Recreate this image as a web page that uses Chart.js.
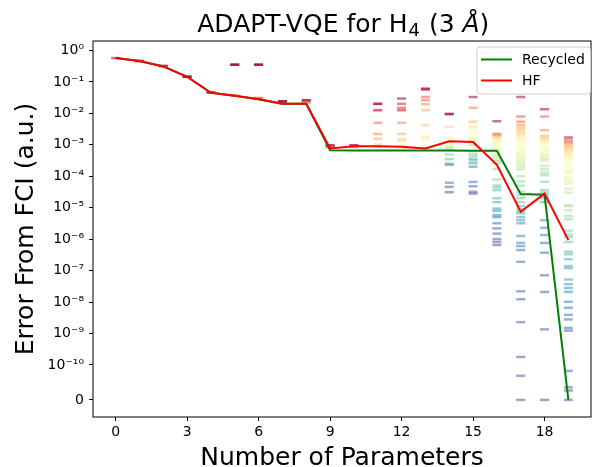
<!DOCTYPE html>
<html><head><meta charset="utf-8">
<script src="https://cdn.jsdelivr.net/npm/chart.js@4"></script>
<style>html,body{margin:0;padding:0;background:#fff}canvas{display:block}</style>
</head><body>
<canvas id="c" width="598" height="467"></canvas>
<script>
// ---------- data ----------
const numParams = [0,1,2,3,4,5,6,7,8,9,10,11,12,13,14,15,16,17,18,19];
const errRecycled = [5.7e-1,4.6e-1,3.1e-1,1.45e-1,4.5e-2,3.6e-2,2.8e-2,2.0e-2,2.0e-2,6.7e-4,6.6e-4,6.6e-4,6.6e-4,6.6e-4,6.6e-4,6.5e-4,6.5e-4,2.7e-5,2.6e-5,0];
const errHF = [5.7e-1,4.6e-1,3.1e-1,1.45e-1,4.5e-2,3.6e-2,2.8e-2,2.0e-2,2.0e-2,7.6e-4,8.9e-4,8.9e-4,8.7e-4,7.6e-4,1.3e-3,1.23e-3,2.3e-4,7.4e-6,2.8e-5,9.3e-7];

const cand00 = [5.7e-1];
const cand01 = [4.6e-1,4.6e-1];
const cand02 = [3.2e-1,3.2e-1];
const cand03 = [1.45e-1,1.45e-1,1.45e-1];
const cand04 = [4.6e-2,4.6e-2];
const cand05 = [3.5e-1,3.5e-1,3.5e-1,3.7e-2];
const cand06 = [3.5e-1,3.5e-1,3.5e-1,3.1e-2,3.0e-2];
const cand07 = [2.4e-2,2.4e-2,2.4e-2,2.1e-2];
const cand08 = [2.6e-2,2.6e-2,2.5e-2,2.2e-2];
const cand09 = [9.5e-4,9.5e-4,9.3e-4,8.3e-4];
const cand10 = [9.5e-4,9.5e-4,9.3e-4,8.5e-4];
const cand11 = [2.0e-2,2.0e-2,1.26e-2,1.26e-2,5.0e-3,2.2e-3,1.55e-3,1.0e-3,8.5e-4];
const cand12 = [2.95e-2,2.0e-2,1.5e-2,1.26e-2,1.26e-2,5.0e-3,2.2e-3,1.5e-3,1.3e-3,1.0e-3,7.6e-4];
const cand13 = [6.0e-2,6.0e-2,5.6e-2,3.3e-2,2.6e-2,1.95e-2,1.26e-2,4.2e-3,1.8e-3,1.45e-3,1.0e-3,8.0e-4];
const cand14 = [9.5e-3,9.5e-3,3.7e-3,1.7e-3,1.4e-3,1.1e-3,9.1e-4,7.6e-4,4.9e-4,3.5e-4,2.5e-4,2.3e-4,6.2e-5,4.6e-5,3.1e-5];
const cand15 = [3.3e-2,1.5e-2,5.4e-3,3.7e-3,2.7e-3,2.4e-3,1.9e-3,1.6e-3,1.4e-3,1.2e-3,1.0e-3,5.2e-4,4.4e-4,3.6e-4,3.2e-4,2.6e-4,2.0e-4,6.6e-5,4.8e-5,3.2e-5,2.8e-5];
const cand16 = [5.6e-3,2.2e-3,2.1e-3,1.95e-3,1.8e-3,1.6e-3,1.4e-3,1.2e-3,1.1e-3,1.0e-3,8.9e-4,7.9e-4,6.8e-4,5.6e-4,4.7e-4,4.1e-4,3.4e-4,3.0e-4,2.6e-4,1.7e-4,7.9e-5,5.1e-5,4.4e-5,3.6e-5,2.0e-5,1.5e-5,9.3e-6,7.9e-6,5.8e-6,5.0e-6,3.2e-6,2.2e-6,1.5e-6,1.0e-6,8.1e-7,6.5e-7];
const cand17 = [3.3e-2,7.9e-3,5.4e-3,4.3e-3,3.5e-3,3.0e-3,2.5e-3,2.2e-3,2.0e-3,1.66e-3,1.4e-3,1.2e-3,1.05e-3,8.9e-4,7.6e-4,6.8e-4,5.6e-4,4.8e-4,4.0e-4,3.4e-4,2.8e-4,2.4e-4,2.0e-4,1.66e-4,1.0e-4,6.8e-5,5.0e-5,3.2e-5,2.5e-5,2.0e-5,1.5e-5,1.12e-5,8.9e-6,7.6e-6,6.6e-6,5.0e-6,4.0e-6,3.2e-6,1.26e-6,7.6e-7,6.0e-7,4.5e-7,1.9e-7,2.2e-8,1.23e-8,2.3e-9,1.8e-10,6.9e-11,0];
const cand18 = [1.35e-2,7.9e-3,2.9e-3,1.9e-3,1.66e-3,1.5e-3,1.3e-3,1.15e-3,1.0e-3,8.5e-4,7.2e-4,6.3e-4,5.2e-4,4.5e-4,3.7e-4,3.2e-4,2.1e-4,1.66e-4,1.3e-4,1.07e-4,6.6e-5,3.6e-5,3.0e-5,2.5e-5,2.0e-5,1.5e-5,4.0e-6,2.3e-6,1.35e-6,7.6e-7,3.7e-7,7.1e-8,2.1e-8,1.35e-9,0];
const cand19 = [1.7e-3,1.4e-3,1.2e-3,1.1e-3,9.5e-4,8.3e-4,7.2e-4,6.3e-4,5.4e-4,4.7e-4,4.0e-4,3.5e-4,3.0e-4,2.6e-4,2.2e-4,1.8e-4,1.5e-4,1.26e-4,9.3e-5,7.4e-5,5.9e-5,4.0e-5,3.0e-5,1.2e-5,1.12e-5,8.3e-6,5.4e-6,4.3e-6,1.86e-6,1.4e-6,1.17e-6,8.1e-7,4.0e-7,3.3e-7,2.3e-7,1.4e-7,1.2e-7,5.2e-8,3.7e-8,2.8e-8,2.1e-8,1.02e-8,6.6e-9,3.9e-9,2.8e-9,1.5e-9,1.23e-9,8.3e-11,3.6e-11,2.7e-11,0];
const candidates = [cand00,cand01,cand02,cand03,cand04,cand05,cand06,cand07,cand08,cand09,cand10,cand11,cand12,cand13,cand14,cand15,cand16,cand17,cand18,cand19];

const xTicks = [0,3,6,9,12,15,18];
const yTickValues = [1,1e-1,1e-2,1e-3,1e-4,1e-5,1e-6,1e-7,1e-8,1e-9,1e-10,0];
const yTickLabels = ['10\u2070','10\u207B\u00B9','10\u207B\u00B2','10\u207B\u00B3','10\u207B\u2074','10\u207B\u2075','10\u207B\u2076','10\u207B\u2077','10\u207B\u2078','10\u207B\u2079','10\u207B\u00B9\u2070','0'];

// ---------- symlog transform (linthresh 1e-10, linscale 1) ----------
const THRESH = 1e-10, LIN = 1/(1-0.1);
function symlog(v){ return v >= THRESH ? Math.log10(v/THRESH) + LIN : (v/THRESH)*LIN; }

// ---------- Spectral colormap ----------
const SPEC = ['#9e0142','#d53e4f','#f46d43','#fdae61','#fee08b','#ffffbf','#e6f598','#abdda4','#66c2a5','#3288bd','#5e4fa2'];
function hex(h){return [parseInt(h.slice(1,3),16),parseInt(h.slice(3,5),16),parseInt(h.slice(5,7),16)];}
function spectral(t, a){
  t = Math.max(0, Math.min(1, t));
  const p = t*(SPEC.length-1), i = Math.min(Math.floor(p), SPEC.length-2), f = p-i;
  const c0 = hex(SPEC[i]), c1 = hex(SPEC[i+1]);
  const c = c0.map((v,k)=>Math.round(v+(c1[k]-v)*f));
  return `rgba(${c[0]},${c[1]},${c[2]},${a})`;
}

const dashPts = [], dashCols = [];
candidates.forEach((col, xi) => {
  const sorted = col.slice().sort((a,b)=>b-a);
  const n = sorted.length;
  sorted.forEach((v) => {
    const rr = sorted.indexOf(v);           // ties share a rank
    const t = n >= 14 ? Math.sqrt(rr/(n-1)) : rr/20;
    dashPts.push({x: numParams[xi], y: symlog(v)});
    dashCols.push(spectral(t, 0.55));
  });
});

const allVals = [].concat(errRecycled, errHF, ...candidates).map(symlog);
const yLo = Math.min(...allVals), yHi = Math.max(...allVals);
const yPad = (yHi-yLo)*0.05;
const xPad = (numParams[numParams.length-1]-numParams[0])*0.05;

const FONT = "'DejaVu Sans', sans-serif";

const overlay = {
  id: 'overlay',
  afterDraw(chart){
    const ctx = chart.ctx, a = chart.chartArea;
    ctx.save();
    ctx.strokeStyle = '#000'; ctx.lineWidth = 1;
    ctx.strokeRect(a.left, a.top, a.right-a.left, a.bottom-a.top);
    // title
    const segs = [
      {t:'ADAPT-VQE for H', f:`25px ${FONT}`, dy:0},
      {t:'4', f:`18px ${FONT}`, dy:4},
      {t:' (3 ', f:`25px ${FONT}`, dy:0},
      {t:'\u00C5', f:`italic 25px ${FONT}`, dy:0},
      {t:')', f:`25px ${FONT}`, dy:0}
    ];
    let w = 0;
    segs.forEach(s=>{ctx.font=s.f; s.w=ctx.measureText(s.t).width + (s.t==='4'?2:0); w+=s.w;});
    let x = 343.3 - w/2;
    ctx.fillStyle = '#000'; ctx.textAlign='left'; ctx.textBaseline='alphabetic';
    segs.forEach(s=>{ctx.font=s.f; ctx.fillText(s.t, x + (s.t==='4'?1:0), 31.7+s.dy); x+=s.w;});
    // x label
    ctx.font = `25px ${FONT}`; ctx.textAlign='center';
    ctx.fillText('Number of Parameters', (a.left+a.right)/2, 465);
    // y label
    ctx.save();
    ctx.translate(32.5, (a.top+a.bottom)/2);
    ctx.rotate(-Math.PI/2);
    ctx.fillText('Error From FCI (a.u.)', 0, 0);
    ctx.restore();
    // legend
    const lx=477, ly=47, lw=113.5, lh=47, r=3;
    ctx.beginPath();
    ctx.moveTo(lx+r,ly); ctx.lineTo(lx+lw-r,ly); ctx.quadraticCurveTo(lx+lw,ly,lx+lw,ly+r);
    ctx.lineTo(lx+lw,ly+lh-r); ctx.quadraticCurveTo(lx+lw,ly+lh,lx+lw-r,ly+lh);
    ctx.lineTo(lx+r,ly+lh); ctx.quadraticCurveTo(lx,ly+lh,lx,ly+lh-r);
    ctx.lineTo(lx,ly+r); ctx.quadraticCurveTo(lx,ly,lx+r,ly); ctx.closePath();
    ctx.fillStyle='rgba(255,255,255,0.8)'; ctx.fill();
    ctx.strokeStyle='#cccccc'; ctx.lineWidth=1; ctx.stroke();
    const items = [['Recycled','#008000',59.5],['HF','#ff0000',80.5]];
    items.forEach(([lab,col,yy])=>{
      ctx.strokeStyle=col; ctx.lineWidth=2;
      ctx.beginPath(); ctx.moveTo(481,yy); ctx.lineTo(512,yy); ctx.stroke();
      ctx.fillStyle='#000'; ctx.font=`14px ${FONT}`; ctx.textAlign='left'; ctx.textBaseline='middle';
      ctx.fillText(lab, 522, yy+0.5);
    });
    ctx.restore();
  }
};

new Chart(document.getElementById('c'), {
  type: 'scatter',
  data: {
    datasets: [
      {
        label: 'HF', type: 'line', order: 1,
        data: numParams.map((x,i)=>({x, y: symlog(errHF[i])})),
        borderColor: '#ff0000', borderWidth: 2, pointRadius: 0, fill: false, tension: 0
      },
      {
        label: 'Recycled', type: 'line', order: 2,
        data: numParams.map((x,i)=>({x, y: symlog(errRecycled[i])})),
        borderColor: '#008000', borderWidth: 2, pointRadius: 0, fill: false, tension: 0
      },
      {
        label: 'candidates', order: 3,
        data: dashPts,
        pointStyle: 'line', pointRadius: 4.5, pointBorderWidth: 2.5,
        pointBorderColor: dashCols, pointBackgroundColor: dashCols,
        pointHoverRadius: 4.5, showLine: false
      }
    ]
  },
  options: {
    responsive: false, devicePixelRatio: 1, animation: false,
    layout: {padding: {left: 0, right: 2, top: 41, bottom: 0}},
    plugins: {legend: {display: false}, tooltip: {enabled: false}, title: {display: false}},
    scales: {
      x: {
        type: 'linear', min: numParams[0]-xPad, max: numParams[numParams.length-1]+xPad,
        afterBuildTicks: s => { s.ticks = xTicks.map(v=>({value:v})); },
        afterFit: s => { s.height = 50; },
        grid: {display: true, drawOnChartArea: false, drawTicks: true, tickLength: 4, color: '#000', lineWidth: 1},
        border: {display: false},
        ticks: {autoSkip: false, maxRotation: 0, padding: 3, color: '#000', font: {family: 'DejaVu Sans', size: 14},
                callback: (v, i) => String(xTicks[i])}
      },
      y: {
        type: 'linear', min: yLo - yPad, max: yHi + yPad,
        afterBuildTicks: s => { s.ticks = yTickValues.map(v=>({value: symlog(v)})); },
        afterFit: s => { s.width = 93; },
        grid: {display: true, drawOnChartArea: false, drawTicks: true, tickLength: 4, color: '#000', lineWidth: 1},
        border: {display: false},
        ticks: {autoSkip: false, padding: 5, color: '#000', font: {family: 'DejaVu Sans', size: 14},
                callback: (v, i) => yTickLabels[i]}
      }
    }
  },
  plugins: [overlay]
});
</script>
</body></html>
